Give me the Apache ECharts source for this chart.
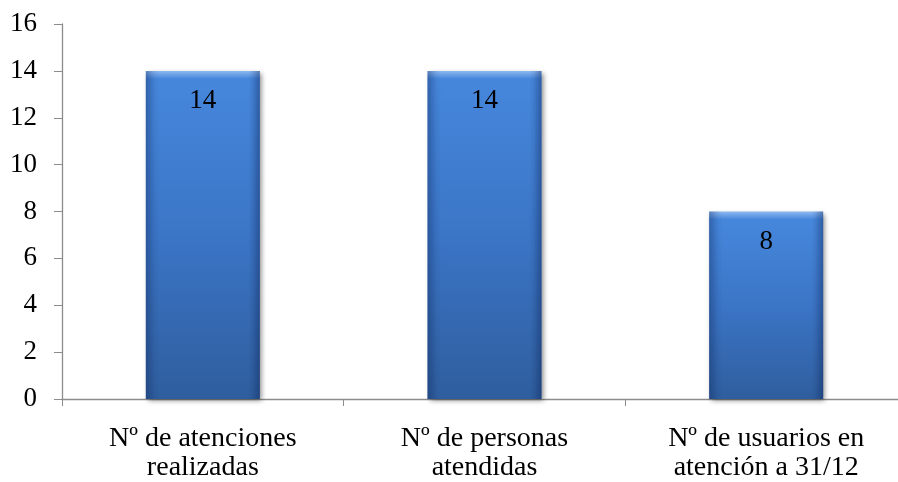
<!DOCTYPE html>
<html>
<head>
<meta charset="utf-8">
<script src="https://cdn.jsdelivr.net/npm/echarts@6/dist/echarts.min.js"></script>
<style>html,body{margin:0;padding:0;background:#fff;overflow:hidden;}#c{width:907px;height:482px;}</style>
</head>
<body>
<div id="c"></div>
<script>
var categories = ['Nº de atenciones\nrealizadas', 'Nº de personas\natendidas', 'Nº de usuarios en\natención a 31/12'];
var values = [14, 14, 8];
var yTicks = {min: 0, max: 16, interval: 2};

var font = '"Liberation Serif", "Times New Roman", serif';
var pxPerUnit = (482 - 24 - 81) / (yTicks.max - yTicks.min);
function bodyStyle(v) {
  var h = v * pxPerUnit;
  var b = Math.min(0.2, 8 / h);
  return {
    color: new echarts.graphic.LinearGradient(0, 0, 0, 1, [
      {offset: 0, color: '#8dbaf0'},
      {offset: b * 0.5, color: '#6a9fe6'},
      {offset: b, color: '#4687dc'},
      {offset: 0.5, color: '#3b75c6'},
      {offset: 1, color: '#2f5e9e'}
    ]),
    shadowBlur: 5,
    shadowColor: 'rgba(0,0,0,0.45)',
    shadowOffsetX: 2,
    shadowOffsetY: 2
  };
}
var chart = echarts.init(document.getElementById('c'));
chart.setOption({
  animation: false,
  grid: {left: 62, right: 0, top: 24, bottom: 81, containLabel: false},
  xAxis: {
    type: 'category',
    data: categories,
    axisLine: {lineStyle: {color: '#8c8c8c', width: 1.3}},
    axisTick: {show: true, length: 7, lineStyle: {color: '#8c8c8c'}},
    axisLabel: {color: '#000', fontFamily: font, fontSize: 28, lineHeight: 29, margin: 25}
  },
  yAxis: {
    type: 'value',
    min: yTicks.min, max: yTicks.max, interval: yTicks.interval,
    splitLine: {show: false},
    axisLine: {show: true, lineStyle: {color: '#8c8c8c', width: 1.3}},
    axisTick: {show: true, length: 8, lineStyle: {color: '#8c8c8c'}},
    axisLabel: {color: '#000', fontFamily: font, fontSize: 27, margin: 25}
  },
  series: [
    {
      type: 'bar',
      data: values.map(function (v) { return {value: v, itemStyle: bodyStyle(v)}; }),
      barWidth: 114
    },
    {
      type: 'bar',
      data: values,
      barWidth: 114,
      barGap: '-100%',
      itemStyle: {
        color: new echarts.graphic.LinearGradient(0, 0, 1, 0, [
          {offset: 0, color: 'rgba(10,30,80,0.35)'},
          {offset: 0.08, color: 'rgba(10,30,80,0.05)'},
          {offset: 0.12, color: 'rgba(0,0,0,0)'},
          {offset: 0.9, color: 'rgba(0,0,0,0)'},
          {offset: 0.93, color: 'rgba(10,30,80,0.08)'},
          {offset: 1, color: 'rgba(10,30,80,0.4)'}
        ])
      },
      label: {
        show: true,
        position: 'insideTop',
        distance: 17,
        color: '#000',
        fontFamily: font,
        fontSize: 27
      }
    }
  ]
});
</script>
</body>
</html>
